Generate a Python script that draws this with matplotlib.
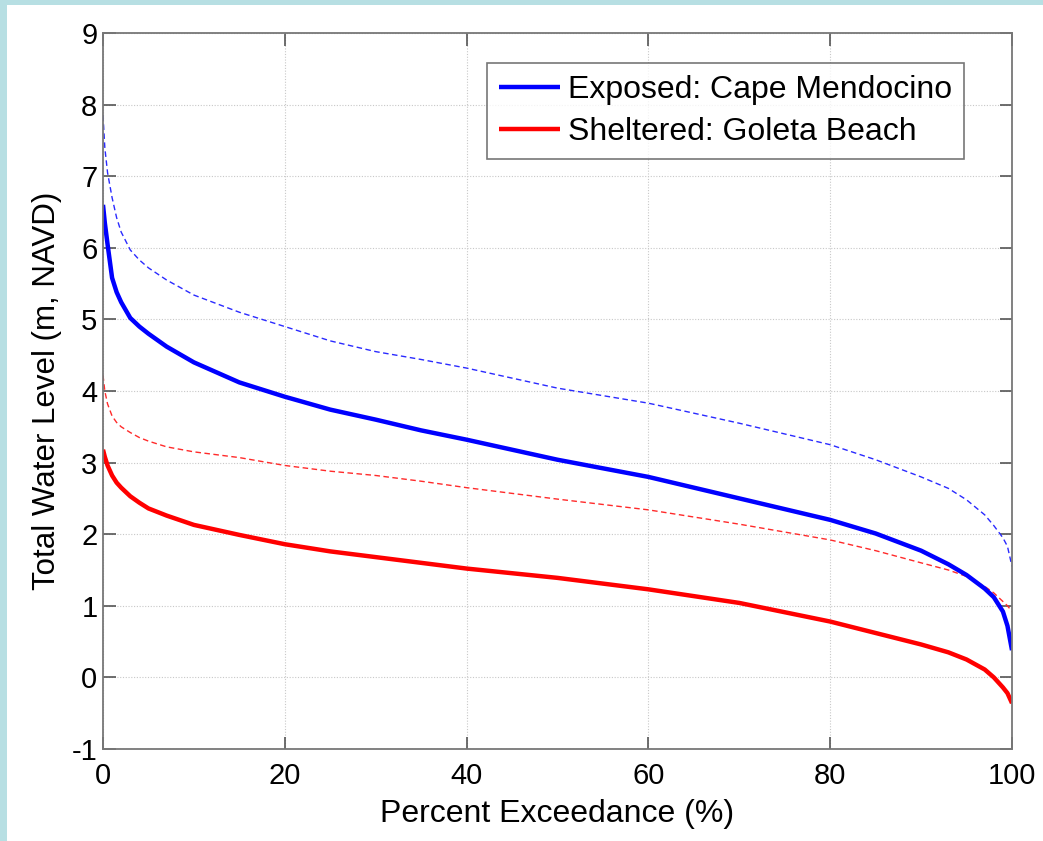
import matplotlib
matplotlib.use("Agg")
import matplotlib.pyplot as plt
from matplotlib.patches import Rectangle

# ---- data ----
pct = [0, 0.2, 0.5, 1, 1.5, 2, 3, 4, 5, 7, 10, 15, 20, 25, 30, 35, 40, 50, 60, 70, 80, 85, 90, 93, 95,
       97, 98, 99, 99.5, 100]
exposed_solid = [6.6, 6.35, 6.05, 5.58, 5.38, 5.24, 5.02, 4.9, 4.8, 4.62, 4.4, 4.12, 3.92, 3.74, 3.6, 3.45,
                 3.32, 3.04, 2.8, 2.5, 2.2, 2.01, 1.77, 1.58, 1.43, 1.24, 1.12, 0.92, 0.72, 0.38]
exposed_dashed = [7.85, 7.4, 7.05, 6.7, 6.42, 6.22, 5.97, 5.83, 5.72, 5.55, 5.34, 5.1, 4.9, 4.7, 4.55, 4.44,
                  4.32, 4.04, 3.83, 3.55, 3.25, 3.04, 2.8, 2.64, 2.48, 2.27, 2.12, 1.95, 1.83, 1.55]
sheltered_dashed = [4.22, 4.0, 3.82, 3.65, 3.56, 3.5, 3.42, 3.35, 3.3, 3.22, 3.15, 3.07, 2.96, 2.88, 2.82, 2.74,
                    2.65, 2.49, 2.34, 2.14, 1.92, 1.77, 1.6, 1.5, 1.41, 1.27, 1.18, 1.06, 1.0, 0.92]
sheltered_solid = [3.18, 3.08, 2.96, 2.82, 2.72, 2.65, 2.53, 2.44, 2.36, 2.26, 2.13, 1.99, 1.86, 1.76, 1.68, 1.6,
                   1.52, 1.39, 1.23, 1.04, 0.78, 0.62, 0.46, 0.35, 0.25, 0.11, 0.0, -0.14, -0.22, -0.36]
labels = ["Exposed: Cape Mendocino", "Sheltered: Goleta Beach"]
xticks = [0, 20, 40, 60, 80, 100]
yticks = list(range(-1, 10))

plt.rcParams['font.family'] = ['Liberation Sans', 'DejaVu Sans']
plt.rcParams['axes.unicode_minus'] = False

W, H = 1043, 841
fig = plt.figure(figsize=(W / 100, H / 100), dpi=100)
fig.patch.set_facecolor('white')
border = '#b7dfe3'
fig.patches.append(Rectangle((0, 0), 7 / W, 1, transform=fig.transFigure,
                             facecolor=border, edgecolor='none', zorder=-10))
fig.patches.append(Rectangle((0, (H - 5) / H), 1, 5 / H, transform=fig.transFigure,
                             facecolor=border, edgecolor='none', zorder=-10))

ax = fig.add_axes([103 / W, (H - 749) / H, (1012 - 103) / W, (749 - 33) / H])
ax.set_facecolor('white')

ax.plot(pct, exposed_dashed, color='#2a2aff', lw=1.0, linestyle=(0, (4, 2.5)))
ax.plot(pct, sheltered_dashed, color='#ff2a2a', lw=1.0, linestyle=(0, (4, 2.5)))
ax.plot(pct, exposed_solid, color='#0000ff', lw=3.2, label=labels[0], solid_capstyle='butt')
ax.plot(pct, sheltered_solid, color='#ff0000', lw=3.2, label=labels[1], solid_capstyle='butt')

ax.set_xlim(0, 100)
ax.set_ylim(-1, 9)
ax.set_xticks(xticks)
ax.set_yticks(yticks)
ax.tick_params(direction='in', length=9, width=1.2, color='#555555', labelsize=21,
               top=True, right=True)
ax.tick_params(axis='y', pad=4)
ax.tick_params(axis='x', pad=9)
ax.grid(True, linestyle=(0, (1, 1.5)), color='#c8c8c8', lw=0.8)
for s in ax.spines.values():
    s.set_color('#777777')
    s.set_linewidth(1.3)

ax.set_xlabel('Percent Exceedance (%)', fontsize=23, labelpad=7)
ax.set_ylabel('Total Water Level (m, NAVD)', fontsize=22.5, labelpad=7)

leg = ax.legend(loc='upper left', bbox_to_anchor=(0.4224, 0.958), fontsize=23, frameon=True,
                fancybox=False, handlelength=1.9, handletextpad=0.25, labelspacing=0.37,
                borderpad=0.38, borderaxespad=0)
leg.get_frame().set_edgecolor('#555555')
leg.get_frame().set_linewidth(1.2)

fig.savefig('out.png', dpi=100, facecolor=fig.get_facecolor())
